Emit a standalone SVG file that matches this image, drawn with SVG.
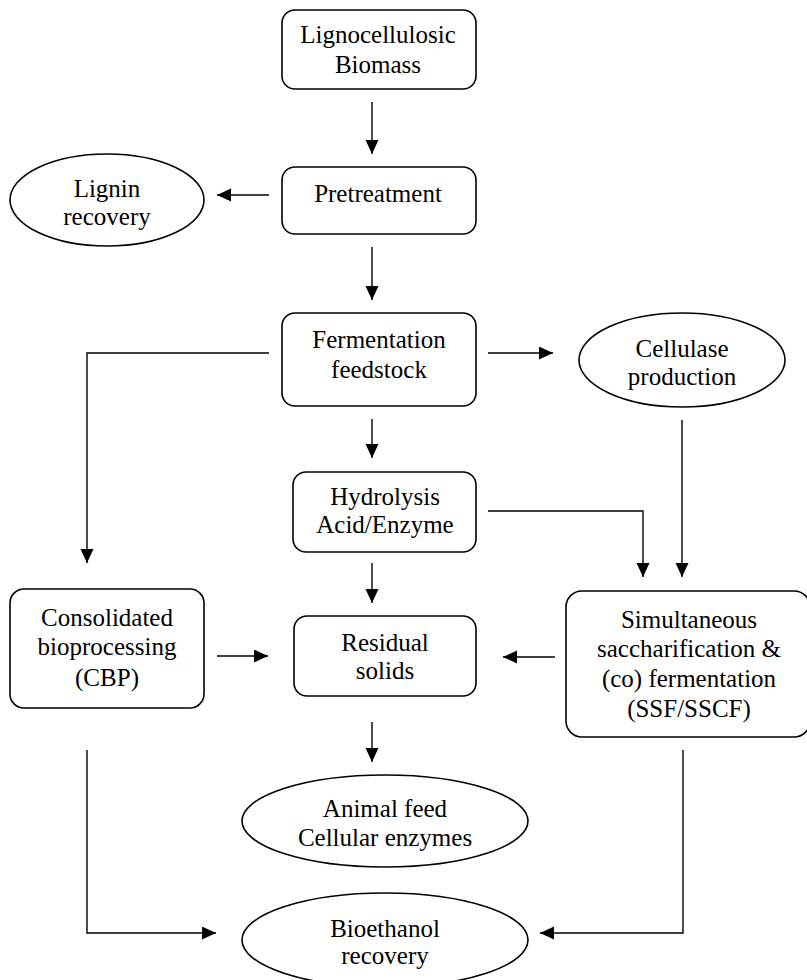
<svg xmlns="http://www.w3.org/2000/svg" width="807" height="980" viewBox="0 0 807 980">
<style>
.box{fill:#fff;stroke:#000;stroke-width:1.6}
.t{font-family:"Liberation Serif","Times New Roman",serif;font-size:25px;fill:#000;text-anchor:middle}
.c{fill:none;stroke:#000;stroke-width:1.4}
</style>
<defs>
<marker id="ah" markerUnits="userSpaceOnUse" markerWidth="15" markerHeight="14" refX="14" refY="6.5" orient="auto">
<path d="M0,0 L14,6.5 L0,13 z" fill="#000"/>
</marker>
</defs>
<rect width="807" height="980" fill="#fff"/>
<g id="connectors">
<path class="c" d="M372,102 V154" marker-end="url(#ah)"/>
<path class="c" d="M269,195 H217" marker-end="url(#ah)"/>
<path class="c" d="M372,247 V300" marker-end="url(#ah)"/>
<path class="c" d="M488,353 H553" marker-end="url(#ah)"/>
<path class="c" d="M269,353 H87 V563" marker-end="url(#ah)"/>
<path class="c" d="M372,419 V458" marker-end="url(#ah)"/>
<path class="c" d="M488,511 H643 V577" marker-end="url(#ah)"/>
<path class="c" d="M682,420 V577" marker-end="url(#ah)"/>
<path class="c" d="M372,563 V603" marker-end="url(#ah)"/>
<path class="c" d="M217,656 H268" marker-end="url(#ah)"/>
<path class="c" d="M555,657 H503" marker-end="url(#ah)"/>
<path class="c" d="M372,722 V762" marker-end="url(#ah)"/>
<path class="c" d="M87,750 V933 H216" marker-end="url(#ah)"/>
<path class="c" d="M683,750 V933 H540" marker-end="url(#ah)"/>
</g>
<g id="biomass">
<rect class="box" x="282" y="10" width="194" height="79" rx="13"/>
<text class="t" x="378" y="43">Lignocellulosic</text>
<text class="t" x="378" y="73">Biomass</text>
</g>
<g id="pretreatment">
<rect class="box" x="282" y="167" width="194" height="67" rx="13"/>
<text class="t" x="378" y="202">Pretreatment</text>
</g>
<g id="lignin">
<ellipse class="box" cx="107" cy="200" rx="97" ry="46"/>
<text class="t" x="107" y="197">Lignin</text>
<text class="t" x="107" y="225">recovery</text>
</g>
<g id="fermentation">
<rect class="box" x="282" y="313" width="194" height="93" rx="13"/>
<text class="t" x="379" y="348">Fermentation</text>
<text class="t" x="379" y="378">feedstock</text>
</g>
<g id="cellulase">
<ellipse class="box" cx="682" cy="360" rx="103" ry="47"/>
<text class="t" x="682" y="357">Cellulase</text>
<text class="t" x="682" y="385">production</text>
</g>
<g id="hydrolysis">
<rect class="box" x="293" y="472" width="183" height="80" rx="13"/>
<text class="t" x="385" y="505">Hydrolysis</text>
<text class="t" x="385" y="533">Acid/Enzyme</text>
</g>
<g id="cbp">
<rect class="box" x="10" y="589" width="194" height="119" rx="14"/>
<text class="t" x="107" y="626">Consolidated</text>
<text class="t" x="107" y="655">bioprocessing</text>
<text class="t" x="107" y="686">(CBP)</text>
</g>
<g id="residual">
<rect class="box" x="294" y="616" width="182" height="80" rx="13"/>
<text class="t" x="385" y="651">Residual</text>
<text class="t" x="385" y="679">solids</text>
</g>
<g id="ssf">
<rect class="box" x="566" y="591" width="244" height="146" rx="16"/>
<text class="t" x="689" y="628">Simultaneous</text>
<text class="t" x="689" y="657">saccharification &amp;</text>
<text class="t" x="689" y="687">(co) fermentation</text>
<text class="t" x="689" y="717">(SSF/SSCF)</text>
</g>
<g id="animal">
<ellipse class="box" cx="385" cy="821" rx="143" ry="46"/>
<text class="t" x="385" y="817">Animal feed</text>
<text class="t" x="385" y="846">Cellular enzymes</text>
</g>
<g id="bioethanol">
<ellipse class="box" cx="385" cy="940" rx="143" ry="47"/>
<text class="t" x="385" y="937">Bioethanol</text>
<text class="t" x="385" y="964">recovery</text>
</g>
</svg>
